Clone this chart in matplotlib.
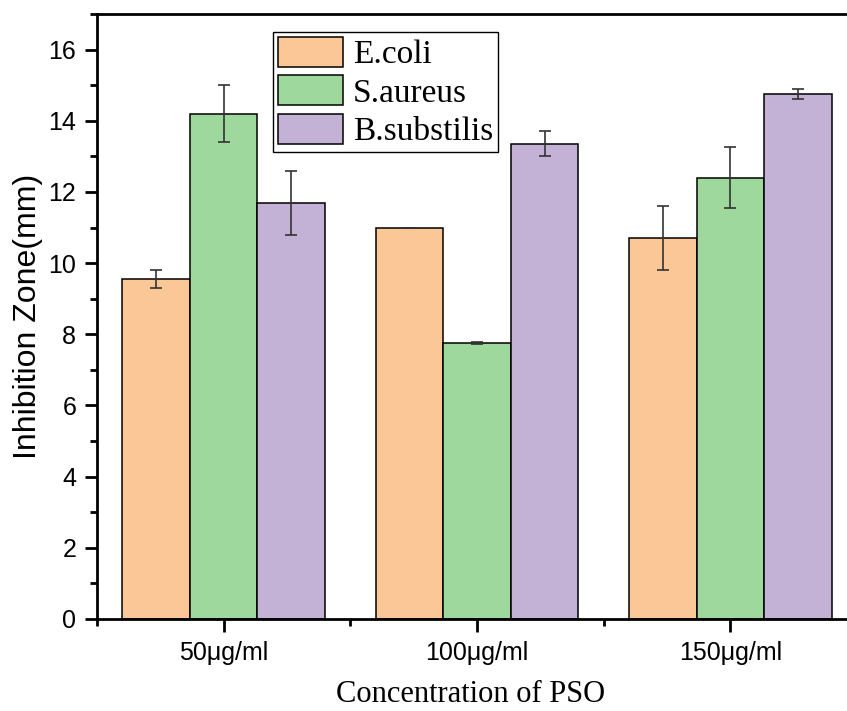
import numpy as np
import matplotlib.pyplot as plt
from matplotlib.ticker import MultipleLocator

concentrations = ["50μg/ml", "100μg/ml", "150μg/ml"]
series_names = ["E.coli", "S.aureus", "B.substilis"]
ecoli = [9.55, 11.0, 10.7]
ecoli_err = [0.25, 0.0, 0.9]
saureus = [14.2, 7.75, 12.4]
saureus_err = [0.8, 0.03, 0.85]
bsub = [11.7, 13.35, 14.75]
bsub_err = [0.9, 0.35, 0.15]

colors = ["#FBC797", "#9FD89C", "#C3B1D6"]

fig = plt.figure(figsize=(8.47, 7.11), dpi=100)
ax = fig.add_axes([97/847, 92/711, 760/847, 605/711])

x = np.arange(len(concentrations))
w = 0.8/3
vals = [ecoli, saureus, bsub]
errs = [ecoli_err, saureus_err, bsub_err]
for i in range(3):
    ax.bar(x + (i-1)*w, vals[i], w, color=colors[i], edgecolor="black", linewidth=1.1,
           label=series_names[i],
           yerr=errs[i], error_kw=dict(ecolor="#333333", elinewidth=1.2, capsize=4.5, capthick=1.2))

ax.set_xlim(-0.5, 2.5)
ax.set_ylim(0, 17)
ax.set_xticks(x)
ax.set_xticklabels(concentrations, fontsize=18, family="Liberation Sans")
ax.set_xticks([-0.5, 0.5, 1.5, 2.5], minor=True)
ax.yaxis.set_major_locator(MultipleLocator(2))
ax.yaxis.set_minor_locator(MultipleLocator(1))
for lab in ax.get_yticklabels():
    lab.set_family("Liberation Sans")
    lab.set_fontsize(18)
ax.tick_params(which="major", length=9, width=2, direction="out")
ax.tick_params(which="minor", length=5, width=2, direction="out")
ax.tick_params(axis="x", pad=7)
ax.tick_params(axis="y", pad=6)
for s in ax.spines.values():
    s.set_linewidth(2)
ax.spines["right"].set_visible(False)

ax.set_ylabel("Inhibition Zone(mm)", fontsize=23, family="Liberation Sans", labelpad=4)
ax.set_xlabel("Concentration of PSO", fontsize=22, family="Liberation Serif", labelpad=11)
ax.xaxis.label.set_x(0.492)

leg = ax.legend(loc="upper left", bbox_to_anchor=(0.2316, 0.970), borderaxespad=0,
                prop=dict(family="Liberation Serif", size=24), fancybox=False,
                edgecolor="black", framealpha=1, handlelength=1.95, handleheight=1.0,
                handletextpad=0.3, labelspacing=0.15, borderpad=0.15)
leg.get_frame().set_linewidth(1)

fig.savefig("out.png", dpi=100)
